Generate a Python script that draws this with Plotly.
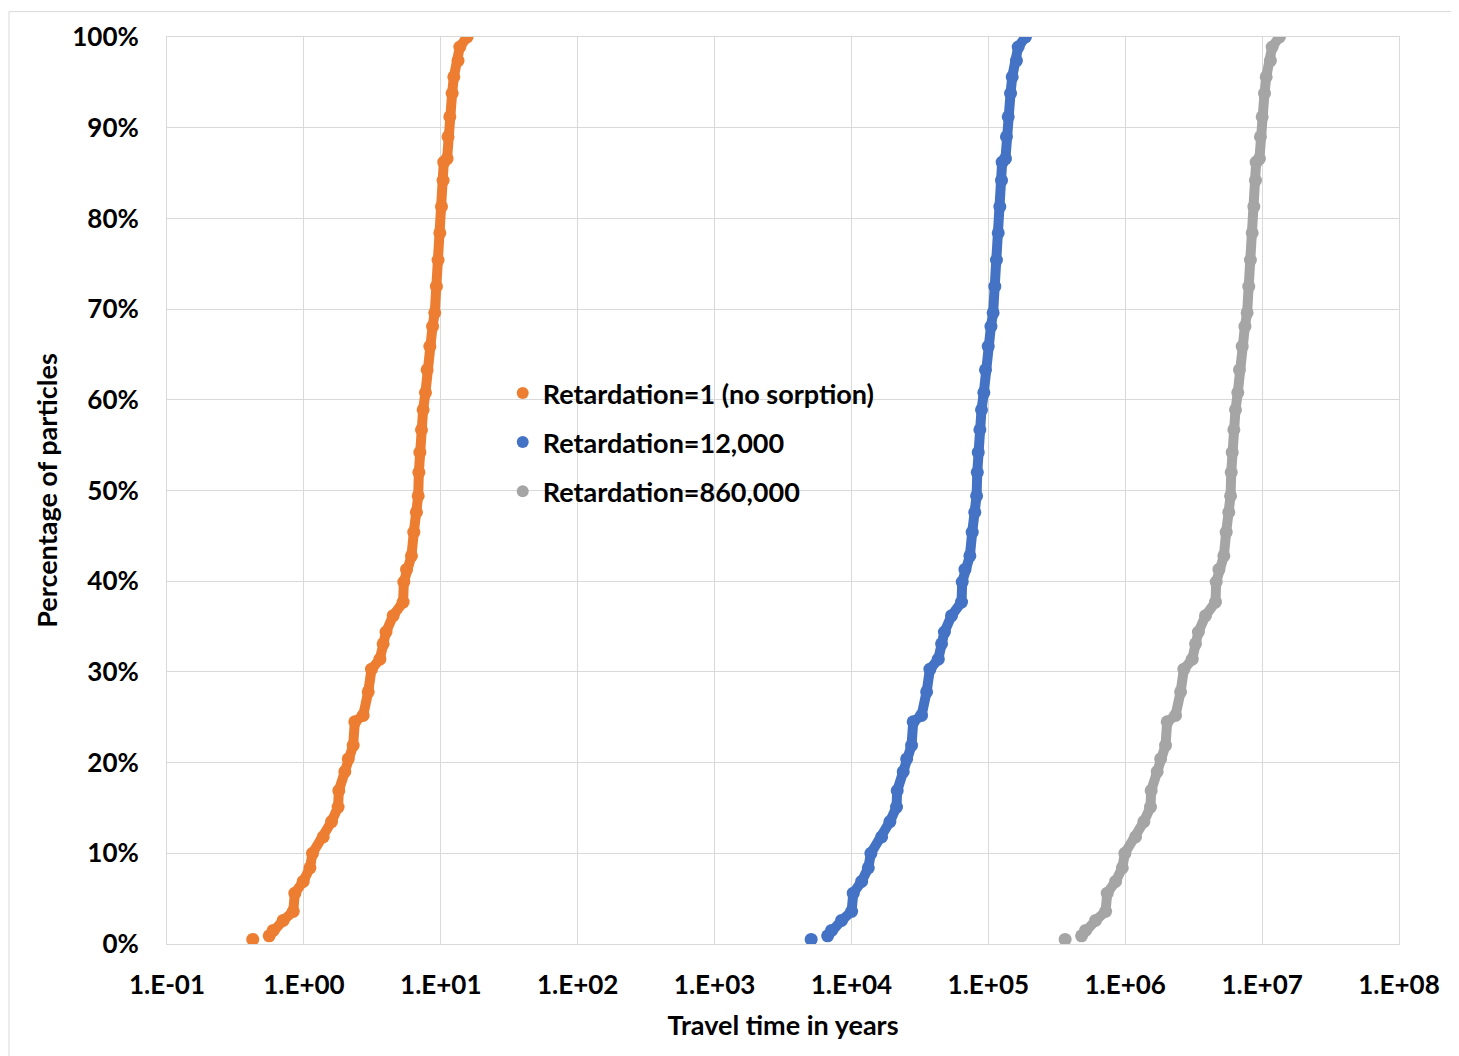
import plotly.graph_objects as go

# Cumulative percentage of particles (%)
pct = [0.5, 0.9, 1.5, 2.6, 3.6, 5.6, 6.9, 8.4, 10.0, 11.8, 13.5, 15.1, 16.9, 19.0, 20.4,
       21.9, 24.5, 25.2, 27.8, 30.3, 31.4, 33.1, 34.4, 36.2, 37.7, 39.9, 41.3, 42.8, 45.4,
       47.6, 49.4, 52.0, 54.2, 56.7, 58.9, 60.8, 63.3, 65.9, 68.1, 69.6, 72.5, 75.4, 78.4,
       81.3, 84.2, 86.2, 86.6, 89.0, 91.2, 93.8, 95.6, 97.4, 98.9, 100.0]

# Travel time in years, Retardation = 1 (no sorption)
t_r1 = [0.423, 0.558, 0.597, 0.706, 0.836, 0.859, 0.989, 1.107, 1.156, 1.384, 1.592, 1.778,
        1.799, 1.991, 2.109, 2.291, 2.355, 2.710, 2.951, 3.119, 3.589, 3.793, 3.981, 4.487,
        5.309, 5.370, 5.623, 6.109, 6.353, 6.637, 6.839, 6.918, 7.031, 7.228, 7.430, 7.727,
        7.943, 8.318, 8.710, 9.036, 9.290, 9.550, 9.840, 10.12, 10.40, 10.52, 11.12, 11.30,
        11.64, 12.11, 12.45, 13.37, 13.77, 15.56]

# Travel time in years, Retardation = 12,000
t_r12k = [5080, 6700, 7160, 8470, 10030, 10310, 11870, 13280, 13870, 16610, 19100, 21340,
          21590, 23890, 25310, 27490, 28260, 32520, 35410, 37430, 43070, 45520, 47770, 53840,
          63710, 64440, 67480, 73310, 76240, 79640, 82070, 83020, 84370, 86740, 89160, 92720,
          95320, 99820, 104500, 108400, 111500, 114600, 118100, 121400, 124800, 126200, 133400,
          135600, 139700, 145300, 149400, 160400, 165200, 186700]

# Travel time in years, Retardation = 860,000
t_r860k = [363800, 479900, 513400, 607200, 719000, 738700, 850500, 952000, 994200, 1190000,
           1369000, 1529000, 1547000, 1712000, 1814000, 1970000, 2025000, 2331000, 2538000,
           2682000, 3087000, 3262000, 3424000, 3859000, 4566000, 4618000, 4836000, 5254000,
           5464000, 5708000, 5882000, 5949000, 6047000, 6216000, 6390000, 6645000, 6831000,
           7153000, 7491000, 7771000, 7989000, 8213000, 8462000, 8703000, 8944000, 9047000,
           9563000, 9718000, 10010000, 10410000, 10710000, 11500000, 11840000, 13380000]

series_names = ["Retardation=1 (no sorption)", "Retardation=12,000", "Retardation=860,000"]
series_colors = ["#ED7D31", "#4472C4", "#A5A5A5"]
series_data = [t_r1, t_r12k, t_r860k]

x_tickvals = [0.1, 1, 10, 100, 1e3, 1e4, 1e5, 1e6, 1e7, 1e8]
x_ticktext = ["1.E-01", "1.E+00", "1.E+01", "1.E+02", "1.E+03", "1.E+04",
              "1.E+05", "1.E+06", "1.E+07", "1.E+08"]

FONT = "Lato"
L, R, T, B = 159, 68, 26, 120
PW = 1459 - L - R
PH = 1056 - T - B

fig = go.Figure()
for name, color, times in zip(series_names, series_colors, series_data):
    # continuous band of dots (skip the isolated first particle)
    fig.add_trace(go.Scatter(x=times[1:], y=pct[1:], mode="lines",
                             line=dict(color=color, width=10),
                             showlegend=False, hoverinfo="skip", legendgroup=name))
    fig.add_trace(go.Scatter(x=times, y=pct, mode="markers", name=name,
                             marker=dict(color=color, size=13),
                             legendgroup=name))

fig.update_layout(
    width=1459, height=1056,
    margin=dict(l=L, r=R, t=T, b=B),
    paper_bgcolor="white", plot_bgcolor="white",
    font=dict(family=FONT, size=26, color="black", weight="bold"),
    legend=dict(x=0.2725, y=0.634, xanchor="left", yanchor="top",
                bgcolor="rgba(0,0,0,0)", tracegroupgap=11,
                font=dict(family=FONT, size=27, color="black", weight="bold"),
                itemsizing="constant"),
    showlegend=True,
)

fig.update_xaxes(type="log", range=[-1, 8], tickvals=x_tickvals, ticktext=x_ticktext,
                 showgrid=True, gridcolor="#D9D9D9", gridwidth=1,
                 showline=True, linecolor="#D9D9D9", linewidth=1, mirror=True,
                 ticks="", ticklabelstandoff=18, zeroline=False,
                 tickfont=dict(family=FONT, size=26, weight="bold"),
                 title=dict(text="Travel time in years", standoff=16,
                            font=dict(family=FONT, size=27, weight="bold")))
fig.update_yaxes(range=[0, 100], dtick=10, ticksuffix="%",
                 showgrid=True, gridcolor="#D9D9D9", gridwidth=1,
                 showline=True, linecolor="#D9D9D9", linewidth=1, mirror=True,
                 ticks="", ticklabelstandoff=22, zeroline=False,
                 tickfont=dict(family=FONT, size=26, weight="bold"),
                 title=dict(text="Percentage of particles", standoff=6,
                            font=dict(family=FONT, size=27, weight="bold")))

# outer chart-area border (figure pixel coords -> paper coords)
fig.add_shape(type="rect", xref="paper", yref="paper",
              x0=(1 - L) / PW, x1=(1446 - L) / PW,
              y0=(PH + T - 1100) / PH, y1=(PH + T - 0.5) / PH,
              line=dict(color="#D9D9D9", width=1), layer="below")

fig.write_html("out.html")
